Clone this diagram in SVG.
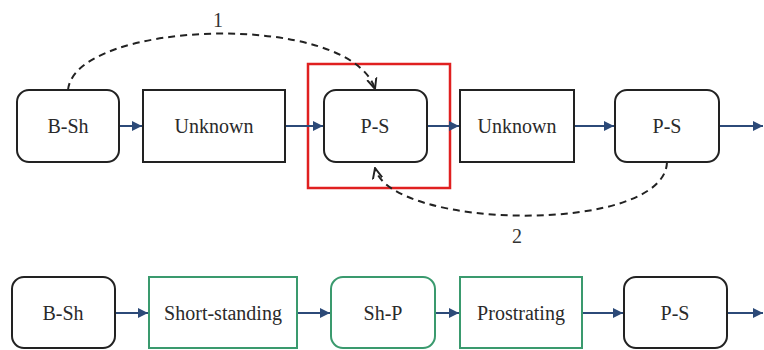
<svg xmlns="http://www.w3.org/2000/svg" width="764" height="350" viewBox="0 0 764 350">
<style>
  .blk { fill: #fff; stroke: #222; stroke-width: 2; }
  .grn { fill: #fff; stroke: #3a9a6e; stroke-width: 2; }
  .lbl { font-family: "Liberation Serif", serif; font-size: 20px; fill: #2a2a2a; text-anchor: middle; dominant-baseline: central; }
  .num { font-family: "Liberation Serif", serif; font-size: 20px; fill: #333; text-anchor: middle; }
  .flow { stroke: #2c4a78; stroke-width: 2; fill: none; marker-end: url(#ah); }
  .dash { stroke: #222; stroke-width: 2; fill: none; stroke-dasharray: 7 5; marker-end: url(#dh); }
</style>
<defs>
  <marker id="ah" viewBox="0 0 10 10" refX="10" refY="5" markerWidth="5" markerHeight="5" orient="auto">
    <path d="M0,0 L10,5 L0,10 Z" fill="#2c4a78"/>
  </marker>
  <marker id="dh" viewBox="0 0 10 10" refX="9" refY="5" markerWidth="6" markerHeight="6" orient="auto">
    <path d="M0,1 L9,5 L0,9" fill="none" stroke="#222" stroke-width="1.6"/>
  </marker>
</defs>
<rect id="highlight" x="308" y="64" width="142" height="124" fill="none" stroke="#e02020" stroke-width="2.5"/>
<g id="connectors">
  <line class="flow" x1="119" y1="126" x2="142" y2="126"/>
  <line class="flow" x1="285" y1="126" x2="323" y2="126"/>
  <line class="flow" x1="427" y1="126" x2="459" y2="126"/>
  <line class="flow" x1="574" y1="126" x2="614" y2="126"/>
  <line class="flow" x1="719" y1="126" x2="763" y2="126"/>
  <path class="dash" d="M68,90 C75,20 350,10 375,89"/>
  <path class="dash" d="M667,162 C665,235 390,230 375,168"/>
  <line class="flow" x1="115" y1="313" x2="148" y2="313"/>
  <line class="flow" x1="297" y1="313" x2="330" y2="313"/>
  <line class="flow" x1="435" y1="313" x2="459" y2="313"/>
  <line class="flow" x1="582" y1="313" x2="623" y2="313"/>
  <line class="flow" x1="727" y1="313" x2="763" y2="313"/>
  <text class="num" x="218" y="27">1</text>
  <text class="num" x="517" y="243">2</text>
</g>
<g id="n1"><rect class="blk" x="17" y="90" width="102" height="72" rx="12"/><text class="lbl" x="68" y="126">B-Sh</text></g>
<g id="n2"><rect class="blk" x="143" y="90" width="142" height="72"/><text class="lbl" x="214" y="126">Unknown</text></g>
<g id="n3"><rect class="blk" x="324" y="90" width="103" height="72" rx="12"/><text class="lbl" x="375" y="126">P-S</text></g>
<g id="n4"><rect class="blk" x="460" y="90" width="114" height="72"/><text class="lbl" x="517" y="126">Unknown</text></g>
<g id="n5"><rect class="blk" x="615" y="90" width="104" height="72" rx="12"/><text class="lbl" x="667" y="126">P-S</text></g>
<g id="m1"><rect class="blk" x="12" y="277" width="103" height="71" rx="12"/><text class="lbl" x="63" y="313">B-Sh</text></g>
<g id="m2"><rect class="grn" x="149" y="277" width="148" height="71"/><text class="lbl" x="223" y="313">Short-standing</text></g>
<g id="m3"><rect class="grn" x="331" y="277" width="104" height="71" rx="12"/><text class="lbl" x="383" y="313">Sh-P</text></g>
<g id="m4"><rect class="grn" x="460" y="277" width="122" height="71"/><text class="lbl" x="521" y="313">Prostrating</text></g>
<g id="m5"><rect class="blk" x="624" y="277" width="103" height="71" rx="12"/><text class="lbl" x="675" y="313">P-S</text></g>
</svg>
